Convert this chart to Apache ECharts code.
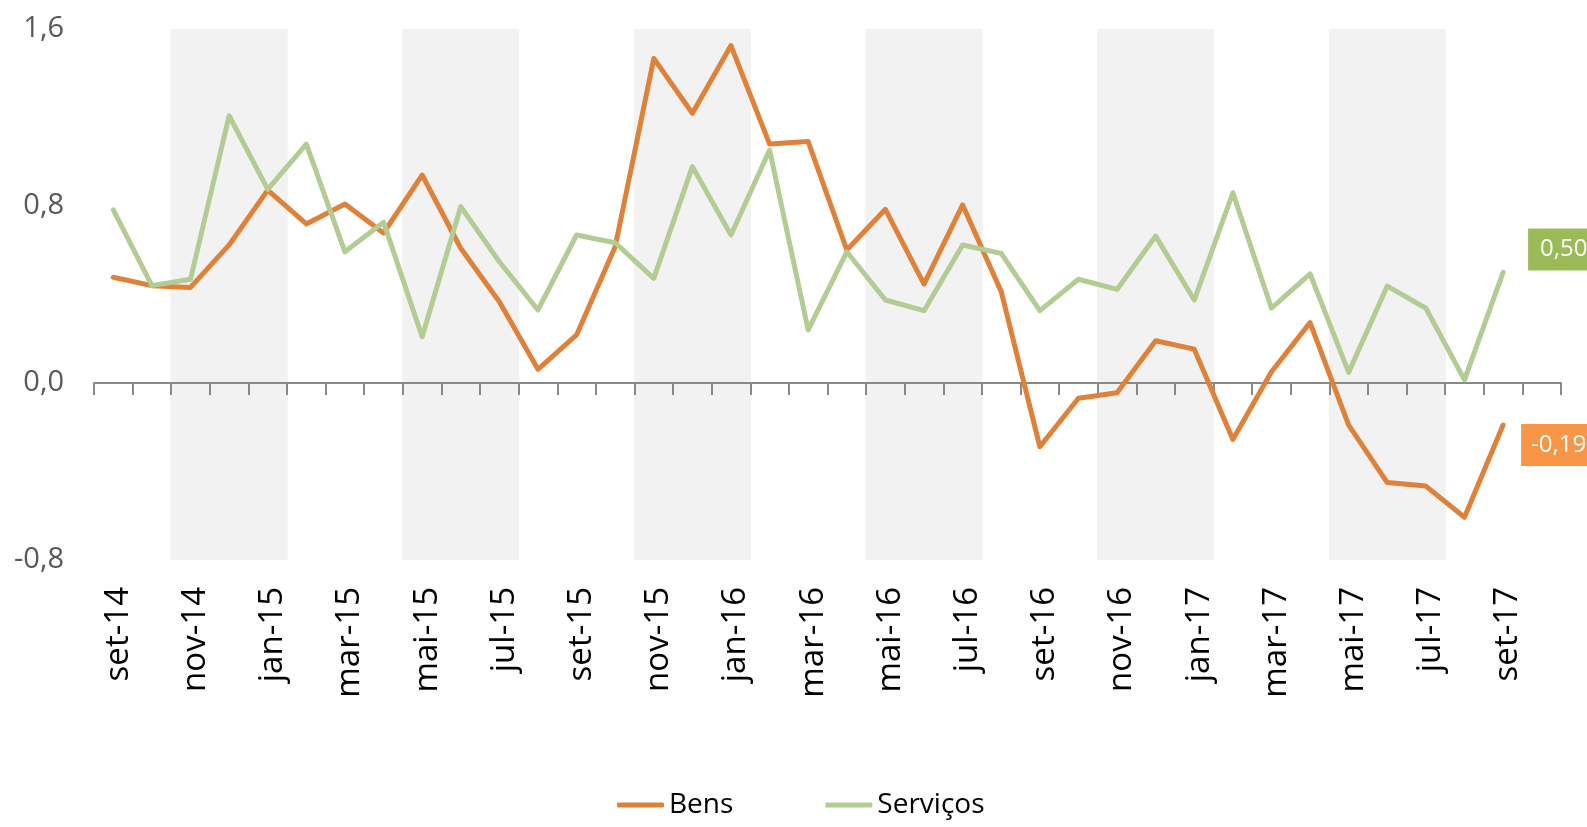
<!DOCTYPE html>
<html>
<head>
<meta charset="utf-8">
<script src="https://cdn.jsdelivr.net/npm/echarts@6/dist/echarts.min.js"></script>
<style>
html,body{margin:0;padding:0;background:#fff;}
#chart{width:1587px;height:827px;}
</style>
</head>
<body>
<div id="chart"></div>
<script>
const categories = ['set-14','out-14','nov-14','dez-14','jan-15','fev-15','mar-15','abr-15','mai-15','jun-15','jul-15','ago-15',
  'set-15','out-15','nov-15','dez-15','jan-16','fev-16','mar-16','abr-16','mai-16','jun-16','jul-16','ago-16',
  'set-16','out-16','nov-16','dez-16','jan-17','fev-17','mar-17','abr-17','mai-17','jun-17','jul-17','ago-17','set-17',''];
const bens = [0.478,0.44,0.432,0.624,0.872,0.719,0.809,0.678,0.940,0.609,0.367,0.062,
  0.217,0.616,1.467,1.219,1.525,1.080,1.091,0.601,0.785,0.447,0.805,0.413,
  -0.288,-0.069,-0.044,0.191,0.153,-0.255,0.051,0.273,-0.190,-0.450,-0.466,-0.607,-0.19];
const servicos = [0.782,0.44,0.469,1.208,0.875,1.080,0.593,0.727,0.209,0.797,0.548,0.33,
  0.669,0.634,0.473,0.978,0.669,1.053,0.240,0.593,0.375,0.327,0.624,0.586,
  0.327,0.469,0.423,0.664,0.375,0.86,0.338,0.493,0.048,0.438,0.338,0.014,0.50];
const shadedMonths = ['nov-14','dez-14','jan-15','mai-15','jun-15','jul-15','nov-15','dez-15','jan-16',
  'mai-16','jun-16','jul-16','nov-16','dez-16','jan-17','mai-17','jun-17','jul-17'];
const yTicks = {min: -0.8, max: 1.6, interval: 0.8};

const fmt = v => v.toFixed(2).replace('.', ',');
const shadeTop = categories.map(c => shadedMonths.includes(c) ? yTicks.max : '-');
const shadeBottom = categories.map(c => shadedMonths.includes(c) ? yTicks.min : '-');

const chart = echarts.init(document.getElementById('chart'), null, {renderer: 'canvas'});
chart.setOption({
  animation: false,
  backgroundColor: '#ffffff',
  grid: {left: 94, right: 26, top: 29, bottom: 267, containLabel: false},
  legend: {
    data: ['Bens', 'Serviços'],
    left: 612, top: 786,
    icon: 'roundRect',
    itemWidth: 47, itemHeight: 5, itemGap: 92,
    textStyle: {fontFamily: 'Open Sans', fontSize: 28, color: '#000000'}
  },
  xAxis: [{
    type: 'category',
    data: categories,
    position: 'bottom',
    boundaryGap: true,
    axisLine: {show: false, onZero: false},
    axisTick: {show: false},
    splitLine: {show: false},
    axisLabel: {
      interval: 1, rotate: 90, margin: 27,
      fontFamily: 'Open Sans', fontSize: 33, color: '#000000',
      verticalAlign: 'top', lineHeight: 10
    }
  }, {
    type: 'category',
    data: categories,
    position: 'bottom',
    boundaryGap: true,
    z: 2,
    axisLine: {show: true, onZero: true, lineStyle: {color: '#898989', width: 2}},
    axisTick: {show: true, interval: 0, length: 12, lineStyle: {color: '#898989', width: 2}},
    axisLabel: {show: false},
    splitLine: {show: false}
  }],
  yAxis: {
    type: 'value',
    min: yTicks.min, max: yTicks.max, interval: yTicks.interval,
    axisLine: {show: false},
    axisTick: {show: false},
    splitLine: {show: false},
    axisLabel: {
      margin: 30, fontFamily: 'Open Sans', fontSize: 29, color: '#595959',
      formatter: v => v.toFixed(1).replace('.', ',')
    }
  },
  series: [{
    name: 'shadeTop', type: 'bar', xAxisIndex: 0, stack: 'shade',
    data: shadeTop, barWidth: 40, silent: true, z: 0,
    itemStyle: {color: '#f2f2f2'}
  }, {
    name: 'shadeBottom', type: 'bar', xAxisIndex: 0, stack: 'shade',
    data: shadeBottom, barWidth: 40, silent: true, z: 0,
    itemStyle: {color: '#f2f2f2'}
  }, {
    name: 'Bens', type: 'line', xAxisIndex: 0, data: bens,
    symbol: 'none', z: 3,
    lineStyle: {color: '#df8139', width: 5, cap: 'round', join: 'round'},
    itemStyle: {color: '#df8139'},
    endLabel: {
      show: true, formatter: p => fmt(p.value), distance: 18, offset: [0, 20],
      backgroundColor: '#f79646', color: '#ffffff', padding: [9, 14, 9, 10],
      fontFamily: 'Open Sans', fontSize: 24
    }
  }, {
    name: 'Serviços', type: 'line', xAxisIndex: 0, data: servicos,
    symbol: 'none', z: 4,
    lineStyle: {color: '#b3cc94', width: 5, cap: 'round', join: 'round'},
    itemStyle: {color: '#b3cc94'},
    endLabel: {
      show: true, formatter: p => fmt(p.value), distance: 25, offset: [0, -23],
      backgroundColor: '#9bbb59', color: '#ffffff', padding: [9, 14, 9, 12],
      fontFamily: 'Open Sans', fontSize: 24
    }
  }]
});
</script>
</body>
</html>
